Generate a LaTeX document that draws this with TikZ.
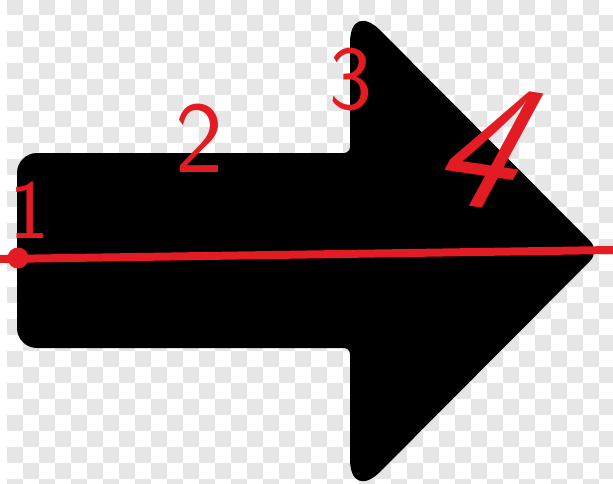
\documentclass[tikz,border=0pt]{standalone}
\usepackage{tikz}
\definecolor{penred}{HTML}{E31B23}
\definecolor{checker}{HTML}{E6E6E6}

\begin{document}
\begin{tikzpicture}[
    x=0.02cm, y=-0.02cm,
    cell/.style={fill=checker},
    arrowbody/.style={fill=black},
    digit/.style={text=penred, inner sep=0pt, font=\sffamily\fontsize{52}{52}\selectfont},
    redline/.style={draw=penred, line width=0.16cm},
    dot/.style={circle, fill=penred, inner sep=0pt, minimum size=0.42cm}
]
    \useasboundingbox (0,0) rectangle (613,484);
    \begin{scope}
        \clip (0,0) rectangle (613,484);
        \fill[white] (0,0) rectangle (613,484);
        \foreach \i in {0,2,...,38}{
            \foreach \j in {0,2,...,30}{
                \fill[cell] ({7+16*\i},{-1+16*\j}) rectangle +(16,16);
                \fill[cell] ({23+16*\i},{15+16*\j}) rectangle +(16,16);
            }
        }
    \end{scope}

    \fill[arrowbody] (17,250)
        [rounded corners=0.4cm] -- (17,153)
        [rounded corners=0.12cm] -- (350,153)
        [rounded corners=0.86cm] -- (350,0)
        [rounded corners=0.28cm] -- (600,251)
        [rounded corners=0.86cm] -- (350,502)
        [rounded corners=0.12cm] -- (350,348)
        [rounded corners=0.4cm] -- (17,348)
        -- cycle;

    \node[digit, font=\sffamily\fontsize{48}{48}\selectfont] (one) at (29,210) {1};
    \node[digit, font=\sffamily\fontsize{58}{58}\selectfont] (two) at (199,138) {2};
    \node[digit, font=\sffamily\fontsize{52}{52}\selectfont] (three) at (351,80) {3};
    \node[digit, font=\sffamily\fontsize{100}{100}\selectfont, xslant=0.4, rotate=-8] (four) at (494,148) {4};

    \coordinate (lstart) at (0,259);
    \coordinate (lend) at (613,250);
    \draw[redline] (lstart) -- (lend);
    \node[dot] (origin) at (18,258) {};
\end{tikzpicture}
\end{document}
